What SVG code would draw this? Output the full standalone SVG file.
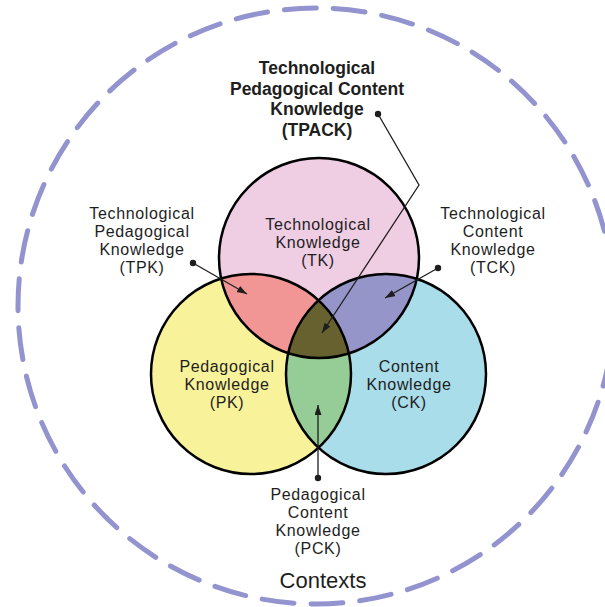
<svg xmlns="http://www.w3.org/2000/svg" width="605" height="607" viewBox="0 0 605 607">
<style>
  .lbl { font-family: "Liberation Sans", Arial, sans-serif; font-size: 16px; letter-spacing: 0.65px; fill: #1e1e1e; text-anchor: middle; }
  .bold { font-weight: bold; font-size: 17.5px; letter-spacing: 0; }
  .ctx { font-size: 22px; letter-spacing: 0; }
  .ring { fill: none; stroke: #000; stroke-width: 2.5; }
  .conn { fill: none; stroke: #1e1e1e; stroke-width: 1.3; }
  .dot { fill: #1e1e1e; }
</style>
<defs>
  <clipPath id="cTK"><circle cx="319" cy="258" r="100"/></clipPath>
  <clipPath id="cPK"><circle cx="251" cy="374" r="100"/></clipPath>
  <marker id="arr" markerUnits="userSpaceOnUse" markerWidth="11" markerHeight="8" refX="10" refY="3.5" orient="auto">
    <path d="M0,0 L10,3.5 L0,7 z" fill="#1e1e1e"/>
  </marker>
</defs>
<rect width="605" height="607" fill="#fff"/>
<g id="contexts">
  <circle cx="316" cy="306" r="298" fill="none" stroke="#9393cf" stroke-width="5" stroke-linecap="round" stroke-dasharray="32 17"/>
  <text class="lbl ctx" x="323" y="588">Contexts</text>
</g>
<g id="fills">
  <circle cx="319" cy="258" r="100" fill="#efcde3"/>
  <circle cx="251" cy="374" r="100" fill="#f8f29b"/>
  <circle cx="386" cy="374" r="100" fill="#a9dde9"/>
  <circle cx="251" cy="374" r="100" fill="#f29595" clip-path="url(#cTK)"/>
  <circle cx="386" cy="374" r="100" fill="#9595c9" clip-path="url(#cTK)"/>
  <circle cx="386" cy="374" r="100" fill="#96cc96" clip-path="url(#cPK)"/>
  <g clip-path="url(#cTK)"><circle cx="386" cy="374" r="100" fill="#66612f" clip-path="url(#cPK)"/></g>
</g>
<g id="TK">
  <circle class="ring" cx="319" cy="258" r="100"/>
  <text class="lbl" x="318"><tspan x="318" y="230">Technological</tspan><tspan x="318" y="247.9">Knowledge</tspan><tspan x="318" y="265.8">(TK)</tspan></text>
</g>
<g id="PK">
  <circle class="ring" cx="251" cy="374" r="100"/>
  <text class="lbl" x="227"><tspan x="227" y="372">Pedagogical</tspan><tspan x="227" y="390">Knowledge</tspan><tspan x="227" y="408">(PK)</tspan></text>
</g>
<g id="CK">
  <circle class="ring" cx="386" cy="374" r="100"/>
  <text class="lbl" x="409"><tspan x="409" y="372">Content</tspan><tspan x="409" y="390">Knowledge</tspan><tspan x="409" y="408">(CK)</tspan></text>
</g>
<g id="TPK">
  <text class="lbl" x="142"><tspan x="142" y="219">Technological</tspan><tspan x="142" y="236.9">Pedagogical</tspan><tspan x="142" y="254.8">Knowledge</tspan><tspan x="142" y="272.7">(TPK)</tspan></text>
</g>
<g id="TCK">
  <text class="lbl" x="493"><tspan x="493" y="219">Technological</tspan><tspan x="493" y="236.9">Content</tspan><tspan x="493" y="254.8">Knowledge</tspan><tspan x="493" y="272.7">(TCK)</tspan></text>
</g>
<g id="PCK">
  <text class="lbl" x="318"><tspan x="318" y="500">Pedagogical</tspan><tspan x="318" y="517.9">Content</tspan><tspan x="318" y="535.8">Knowledge</tspan><tspan x="318" y="553.7">(PCK)</tspan></text>
</g>
<g id="TPACK">
  <text class="lbl bold" x="317"><tspan x="317" y="74">Technological</tspan><tspan x="317" y="94.5">Pedagogical Content</tspan><tspan x="317" y="115">Knowledge</tspan><tspan x="317" y="135.5">(TPACK)</tspan></text>
</g>
<g id="connectors">
  <polyline class="conn" points="193,263 247,294" marker-end="url(#arr)"/>
  <circle class="dot" cx="193" cy="263" r="3.2"/>
  <polyline class="conn" points="438,268 385,298" marker-end="url(#arr)"/>
  <circle class="dot" cx="438" cy="268" r="3.2"/>
  <polyline class="conn" points="378,114 419,185 322,333" marker-end="url(#arr)"/>
  <circle class="dot" cx="378" cy="114" r="3.2"/>
  <polyline class="conn" points="318,478 318,405" marker-end="url(#arr)"/>
  <circle class="dot" cx="318" cy="478" r="3.2"/>
</g>
</svg>
